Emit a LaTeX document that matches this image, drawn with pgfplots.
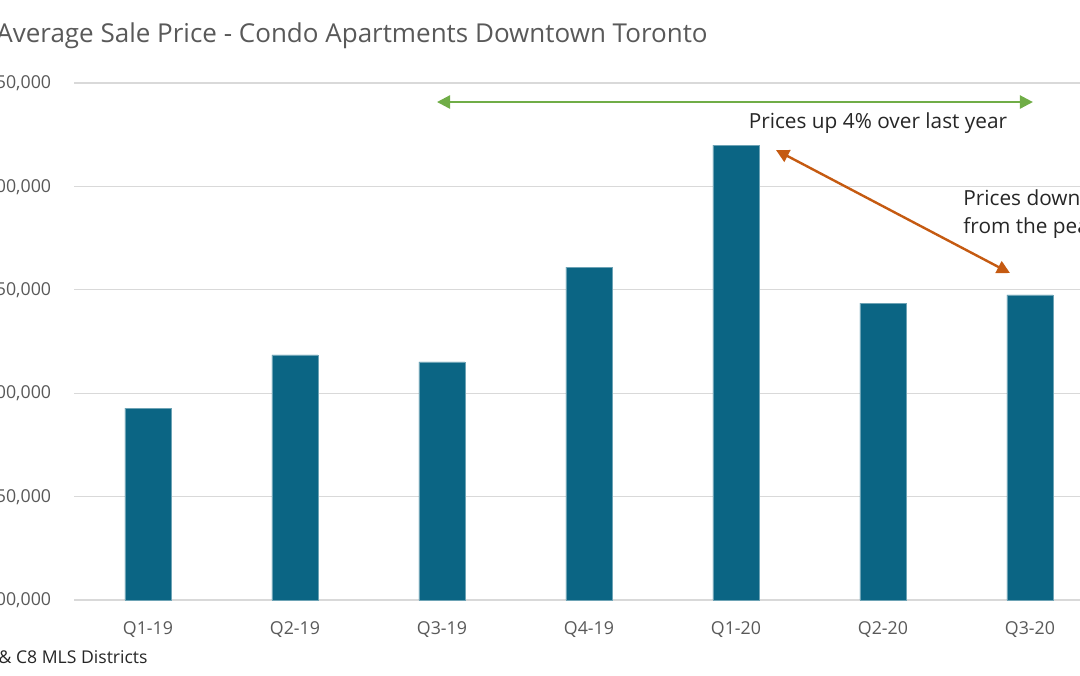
\documentclass[border=0pt]{standalone}
\usepackage{fontspec}
\setmainfont{Open Sans}
\usepackage{pgfplots}
\pgfplotsset{compat=1.18}
\usetikzlibrary{arrows.meta}

\definecolor{barblue}{HTML}{0B6584}
\definecolor{gridgray}{HTML}{D9D9D9}
\definecolor{txtgray}{HTML}{595959}
\definecolor{arrgreen}{HTML}{70AD47}
\definecolor{arrorange}{HTML}{C55A11}

\begin{document}
\begin{tikzpicture}
\begin{axis}[
    at={(37.25pt,37.5pt)}, anchor=south west,
    scale only axis,
    width=514.5pt, height=258.5pt,
    xmin=-0.5, xmax=6.5,
    ymin=600000, ymax=850000,
    scaled y ticks=false,
    xtick={0,...,6},
    xticklabels={Q1-19,Q2-19,Q3-19,Q4-19,Q1-20,Q2-20,Q3-20},
    ytick={600000,650000,700000,750000,800000,850000},
    yticklabels={{\$600,000},{\$650,000},{\$700,000},{\$750,000},{\$800,000},{\$850,000}},
    axis line style={draw=none},
    major tick length=0pt,
    ymajorgrids,
    grid style={gridgray, line width=0.6pt},
    ticklabel style={font=\fontsize{8.9}{11}\selectfont, text=txtgray},
    yticklabel style={anchor=east, inner sep=0pt, xshift=-11.5pt},
    xticklabel style={anchor=north, inner sep=0pt, yshift=-10.5pt},
    clip=false,
]
\addplot[ybar, bar width=23pt, bar shift=0pt, fill=barblue, draw=barblue!60!white, line width=0.3pt]
    coordinates {
        (0,692800)
        (1,718500)
        (2,715100)
        (3,761000)
        (4,820000)
        (5,743600)
        (6,747500)
    };

\draw[arrgreen, line width=1.2pt, {Triangle[length=6.5pt,width=6.5pt]}-{Triangle[length=6.5pt,width=6.5pt]}]
    (axis cs:1.966,840800) -- (axis cs:6.02,840800);
\node[font=\fontsize{10.4}{12}\selectfont, text=black!85] at (axis cs:4.966,830700) {Prices up 4\% over last year};

\draw[arrorange, line width=1.2pt, {Triangle[length=6.5pt,width=6.5pt]}-{Triangle[length=6.5pt,width=6.5pt]}]
    (axis cs:4.272,817600) -- (axis cs:5.864,758100);
\node[font=\fontsize{10.4}{14}\selectfont, text=black!85, align=left, anchor=west, inner sep=0pt]
    at (axis cs:5.544,786650) {Prices down 9\%\\from the peak};
\end{axis}

\node[anchor=east, inner sep=0pt, font=\fontsize{13}{15}\selectfont, text=txtgray] at (354pt,319.5pt)
    {Average Sale Price - Condo Apartments Downtown Toronto};
\node[anchor=east, inner sep=0pt, font=\fontsize{8.8}{11}\selectfont, text=black!85] at (74pt,9pt)
    {Source: TRREB C1 \& C8 MLS Districts};

\pgfresetboundingbox
\useasboundingbox (0pt,0pt) rectangle (540pt,337.5pt);
\end{tikzpicture}
\end{document}
